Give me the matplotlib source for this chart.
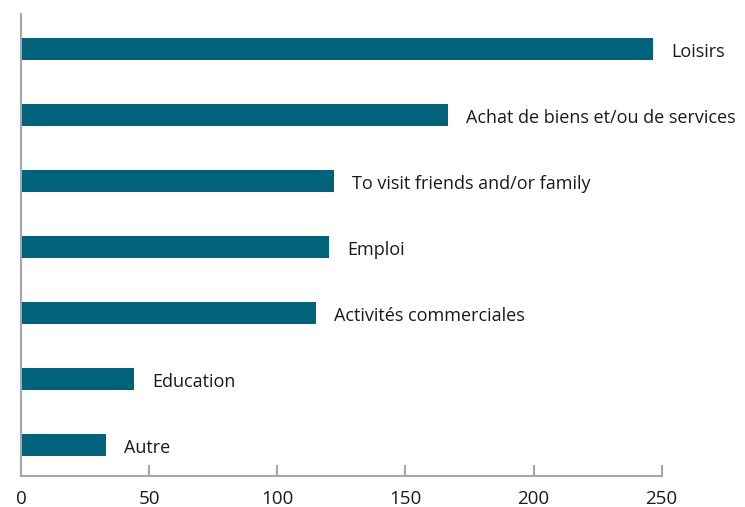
import matplotlib

matplotlib.use("Agg")
import matplotlib.pyplot as plt

# purposes, top to bottom as shown in the chart
CATEGORIES = [
    "Loisirs",
    "Achat de biens et/ou de services",
    "To visit friends and/or family",
    "Emploi",
    "Activités commerciales",
    "Education",
    "Autre",
]
VALUES = [246.5, 166.5, 122, 120, 115, 44, 33]
X_TICKS = [0, 50, 100, 150, 200, 250]

BAR_COLOR = "#00627B"
SPINE_COLOR = "#A6A6A6"
TEXT_COLOR = "#1A1A1A"

plt.rcParams["font.family"] = ["Liberation Sans Narrow", "Open Sans", "DejaVu Sans"]

fig = plt.figure(figsize=(7.45, 5.07), dpi=100)
ax = fig.add_axes([0.0282, 0.0611, 0.8599, 0.9113])

# reverse so the first category ends up at the top
positions = list(range(len(CATEGORIES)))[::-1]
ax.barh(positions, VALUES, height=0.33, color=BAR_COLOR)

for pos, value, label in zip(positions, VALUES, CATEGORIES):
    ax.annotate(
        label,
        xy=(value, pos),
        xytext=(13.5, -2.5),
        textcoords="offset points",
        va="center",
        ha="left",
        fontsize=13,
        color=TEXT_COLOR,
        annotation_clip=False,
    )

ax.set_xlim(0, 250)
ax.set_ylim(-0.47, 6.53)
ax.set_xticks(X_TICKS)
ax.set_xticklabels([str(t) for t in X_TICKS], fontsize=13.5, color=TEXT_COLOR)
ax.set_yticks([])
ax.tick_params(axis="x", direction="in", length=8, width=1.5, color=SPINE_COLOR, pad=10)

for side in ("top", "right"):
    ax.spines[side].set_visible(False)
for side in ("left", "bottom"):
    ax.spines[side].set_color(SPINE_COLOR)
    ax.spines[side].set_linewidth(1.5)

fig.savefig("out.png", dpi=100)
plt.close(fig)
